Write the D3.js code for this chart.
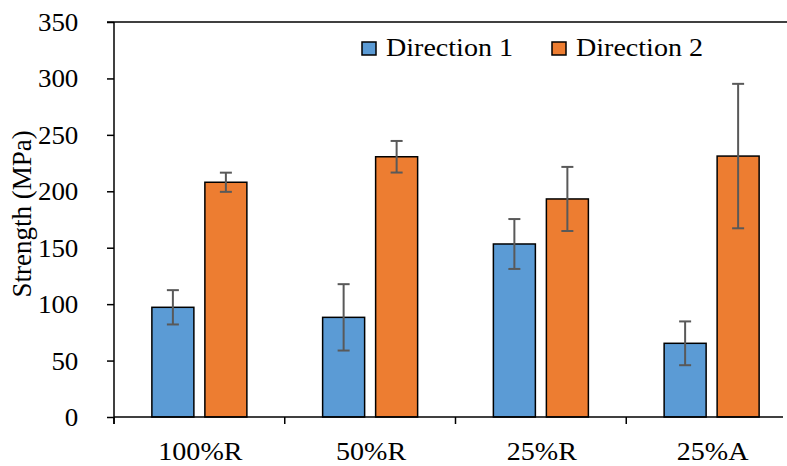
<!DOCTYPE html>
<html>
<head>
  <meta charset="utf-8">
  <style>
    body { margin: 0; background: #fff; }
  </style>
</head>
<body>
  <svg id="svg"></svg>
  <script src="https://d3js.org/d3.v7.min.js"></script>
  <script>
    // data
    const categories = ["100%R", "50%R", "25%R", "25%A"];
    const series = ["Direction 1", "Direction 2"];
    const dir1 = [97.2, 88.3, 153.3, 65.3];
    const dir2 = [208.0, 230.6, 193.2, 231.2];
    const err1 = [15.2, 29.4, 22.1, 19.4];
    const err2 = [8.5, 14.0, 28.4, 64.0];
    const yTicks = [0, 50, 100, 150, 200, 250, 300, 350];

    const colors = ["#5B9BD5", "#ED7D31"];
    const font = "Liberation Serif";
    const sx = 1.08; // the reference text is a bit wider than the font
    const width = 787, height = 466;
    const plotLeft = 114, plotRight = 797, plotTop = 22, plotBottom = 417;

    const svg = d3.select("#svg").attr("width", width).attr("height", height)
      .attr("font-family", font);

    const x = d3.scaleBand().domain(categories).range([plotLeft, plotRight]);
    const bw = x.bandwidth();
    const xs = d3.scaleBand().domain(series).range([bw / 2 - 47.5, bw / 2 + 47.5]).paddingInner(11 / 53);
    const y = d3.scaleLinear().domain([0, 350]).range([plotBottom, plotTop]);

    const rows = [];
    categories.forEach((c, i) => {
      rows.push({ cat: c, s: series[0], v: dir1[i], e: err1[i], col: colors[0] });
      rows.push({ cat: c, s: series[1], v: dir2[i], e: err2[i], col: colors[1] });
    });

    // top border
    svg.append("line")
      .attr("x1", plotLeft - 7).attr("x2", width)
      .attr("y1", plotTop).attr("y2", plotTop)
      .attr("stroke", "#000").attr("stroke-width", 1.5);

    // bars
    svg.append("g").selectAll("rect")
      .data(rows)
      .join("rect")
      .attr("x", d => x(d.cat) + xs(d.s))
      .attr("y", d => y(d.v))
      .attr("width", xs.bandwidth())
      .attr("height", d => y(0) - y(d.v))
      .attr("fill", d => d.col)
      .attr("stroke", "#000")
      .attr("stroke-width", 1.5);

    // error bars
    const eb = svg.append("g").attr("stroke", "#595959").attr("stroke-width", 2);
    rows.forEach(d => {
      const cx = x(d.cat) + xs(d.s) + xs.bandwidth() / 2;
      eb.append("line").attr("x1", cx).attr("x2", cx).attr("y1", y(d.v + d.e)).attr("y2", y(d.v - d.e));
      [d.v + d.e, d.v - d.e].forEach(v => {
        eb.append("line").attr("x1", cx - 6).attr("x2", cx + 6).attr("y1", y(v)).attr("y2", y(v));
      });
    });

    // y axis
    const yAxis = svg.append("g")
      .attr("transform", `translate(${plotLeft},0)`)
      .call(d3.axisLeft(y).tickValues(yTicks).tickSize(7).tickPadding(26));
    yAxis.attr("font-family", font).attr("font-size", 25);
    yAxis.select(".domain").remove();
    yAxis.selectAll(".tick line").attr("stroke", "#000").attr("stroke-width", 1.5);
    yAxis.selectAll("text")
      .attr("fill", "#000")
      .attr("dy", "0.34em")
      .attr("transform", `scale(${sx},1)`);
    svg.append("line")
      .attr("x1", plotLeft).attr("x2", plotLeft).attr("y1", plotTop).attr("y2", plotBottom + 7)
      .attr("stroke", "#000").attr("stroke-width", 1.5);

    // x axis
    svg.append("line")
      .attr("x1", plotLeft).attr("x2", 783).attr("y1", plotBottom).attr("y2", plotBottom)
      .attr("stroke", "#000").attr("stroke-width", 1.5);
    svg.append("g").selectAll("line")
      .data(categories)
      .join("line")
      .attr("x1", d => x(d)).attr("x2", d => x(d))
      .attr("y1", plotBottom).attr("y2", plotBottom + 7)
      .attr("stroke", "#000").attr("stroke-width", 1.5);
    svg.append("g").selectAll("text")
      .data(categories)
      .join("text")
      .attr("transform", d => `translate(${x(d) + bw / 2 + 1},460) scale(${sx},1)`)
      .attr("text-anchor", "middle")
      .attr("font-size", 26)
      .text(d => d);

    // y title
    svg.append("text")
      .attr("transform", "translate(31,214) rotate(-90)")
      .attr("text-anchor", "middle")
      .attr("font-size", 27)
      .text("Strength (MPa)");

    // legend
    const legX = [362, 552];
    const lg = svg.append("g").selectAll("g")
      .data(series)
      .join("g")
      .attr("transform", (d, i) => `translate(${legX[i]},42)`);
    lg.append("rect")
      .attr("width", 14).attr("height", 13)
      .attr("fill", (d, i) => colors[i])
      .attr("stroke", "#000").attr("stroke-width", 1.5);
    lg.append("text")
      .attr("transform", `translate(24,14) scale(${sx},1)`)
      .attr("font-size", 26)
      .text(d => d);
  </script>
</body>
</html>
